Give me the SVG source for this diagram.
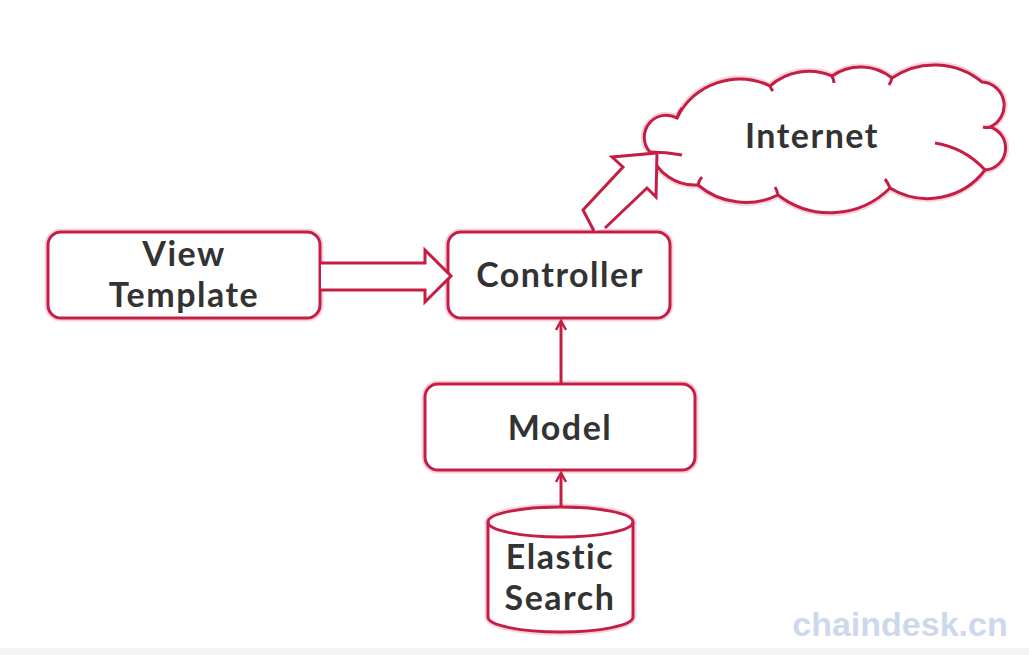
<svg xmlns="http://www.w3.org/2000/svg" width="1029" height="655" viewBox="0 0 1029 655">
<defs>
<style>
.box{fill:#fff;stroke:#c41e44;stroke-width:3}
.glow{fill:none;stroke:#e8a0b0;stroke-width:7;opacity:0.45}
.lbl{font-family:Lato,"Open Sans",sans-serif;font-weight:bold;font-size:34px;letter-spacing:1.5px;font-variant-ligatures:none;fill:#333;text-anchor:middle}
.ln{fill:none;stroke:#c41e44;stroke-width:3}
.blk{fill:#fff;stroke:#c41e44;stroke-width:3;stroke-linejoin:miter}
</style>
<path id="cloudShape" d="M650,152 A22,22 0 0 1 677,118 A70,70 0 0 1 770,86 A59,59 0 0 1 832,76 A50,50 0 0 1 892,78 A75,75 0 0 1 982,82 A23.5,23.5 0 0 1 990,127 A22,22 0 0 1 985,170 A72,72 0 0 1 890,188 A85,85 0 0 1 778,195 A74,74 0 0 1 698,185 A47,47 0 0 1 650,152 Z"/>
<marker id="ah" viewBox="0 0 12 12" refX="10" refY="6" markerWidth="12" markerHeight="12" markerUnits="userSpaceOnUse" orient="auto">
<path d="M1,1 L10,6 L1,11" fill="none" stroke="#c41e44" stroke-width="2.5"/>
</marker>
</defs>
<rect width="1029" height="655" fill="#fff"/>
<rect x="0" y="648" width="1029" height="7" fill="#f4f4f4"/>

<g id="internet">
<use href="#cloudShape" class="glow"/>
<use href="#cloudShape" class="box"/>
<path class="ln" stroke-width="2.5" d="M650,152 Q666,152 682,155 M677,118 Q679,112 682,108 M770,86 Q771,89 773,91 M832,76 Q834,80 834,83 M892,78 Q891,82 889,85 M990,127 Q987,128 983,127 M985,170 Q965,148 935,143 M890,188 Q888,183 885,179 M778,195 Q777,190 775,187 M698,185 Q699,180 702,177"/>
<text class="lbl" x="812" y="148">Internet</text>
</g>

<g id="view-template">
<rect class="glow" x="48" y="232" width="272" height="86" rx="13"/>
<rect class="box" x="48" y="232" width="272" height="86" rx="13"/>
<text class="lbl" x="184" y="266">View</text>
<text class="lbl" x="184" y="307">Template</text>
</g>

<g id="controller">
<rect class="glow" x="448" y="232" width="222" height="86" rx="13"/>
<rect class="box" x="448" y="232" width="222" height="86" rx="13"/>
<text class="lbl" x="560" y="287">Controller</text>
</g>

<g id="model">
<rect class="glow" x="425" y="384" width="270" height="86" rx="13"/>
<rect class="box" x="425" y="384" width="270" height="86" rx="13"/>
<text class="lbl" x="560" y="440">Model</text>
</g>

<g id="elastic-search">
<path class="glow" d="M488,522 A72.5,15 0 0 1 633,522 L633,617 A72.5,15 0 0 1 488,617 Z"/>
<path class="box" d="M488,522 A72.5,15 0 0 1 633,522 L633,617 A72.5,15 0 0 1 488,617 Z"/>
<path class="ln" d="M488,522 A72.5,15 0 0 0 633,522"/>
<text class="lbl" x="560" y="569">Elastic</text>
<text class="lbl" x="560" y="610">Search</text>
</g>

<g id="connectors">
<path class="blk" d="M321,263 L425,263 L425,250 L451,276 L425,302 L425,290 L321,290"/>
<path class="blk" d="M594,231 L583,210 L623,167 L612,157 L657,153 L656,197 L647,188 L605,228"/>
<line class="ln" x1="561" y1="383" x2="561" y2="321" marker-end="url(#ah)"/>
<line class="ln" x1="561" y1="507" x2="561" y2="473" marker-end="url(#ah)"/>
</g>

<text x="900" y="636" font-family="Liberation Sans,Arial,sans-serif" font-weight="bold" font-size="34" fill="#cdd8ec" text-anchor="middle">chaindesk.cn</text>
</svg>
